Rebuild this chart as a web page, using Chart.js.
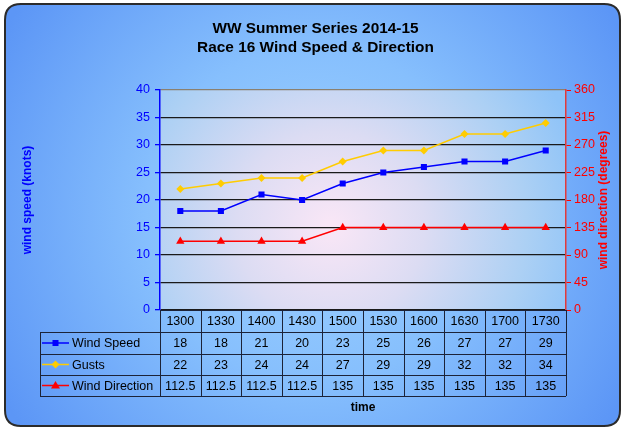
<!DOCTYPE html>
<html>
<head>
<meta charset="utf-8">
<script src="https://cdn.jsdelivr.net/npm/chart.js@4/dist/chart.umd.min.js"></script>
<style>
  html, body { margin: 0; padding: 0; background: #fff; }
  #wrap { width: 626px; height: 430px; }
</style>
</head>
<body>
<div id="wrap"><canvas id="chart" width="626" height="430"></canvas></div>
<script>
(function () {
  'use strict';

  // data
  var TIMES = ['1300', '1330', '1400', '1430', '1500', '1530', '1600', '1630', '1700', '1730'];
  var WIND_SPEED = [18, 18, 21, 20, 23, 25, 26, 27, 27, 29];
  var GUSTS = [22, 23, 24, 24, 27, 29, 29, 32, 32, 34];
  var WIND_DIR = [112.5, 112.5, 112.5, 112.5, 135, 135, 135, 135, 135, 135];
  var SERIES_NAMES = ['Wind Speed', 'Gusts', 'Wind Direction'];

  var C = {
    blue: '#0000ff',
    gold: '#ffcc00',
    red: '#ff0000',
    grid: '#1a1a1a',
    text: '#000000'
  };
  var FONT = "Arial, 'Liberation Sans', sans-serif";

  Chart.defaults.font.family = FONT;
  Chart.defaults.font.size = 12;

  // ── backgrounds: rounded outer panel + plot area gradient ──
  var backgroundPlugin = {
    id: 'panelBg',
    beforeDraw: function (chart) {
      var ctx = chart.ctx;
      var W = chart.width, H = chart.height;
      ctx.save();
      ctx.fillStyle = '#ffffff';
      ctx.fillRect(0, 0, W, H);

      var x0 = 5, y0 = 4, x1 = 620, y1 = 426, r = 16;
      ctx.beginPath();
      ctx.moveTo(x0 + r, y0);
      ctx.lineTo(x1 - r, y0);
      ctx.quadraticCurveTo(x1, y0, x1, y0 + r);
      ctx.lineTo(x1, y1 - r);
      ctx.quadraticCurveTo(x1, y1, x1 - r, y1);
      ctx.lineTo(x0 + r, y1);
      ctx.quadraticCurveTo(x0, y1, x0, y1 - r);
      ctx.lineTo(x0, y0 + r);
      ctx.quadraticCurveTo(x0, y0, x0 + r, y0);
      ctx.closePath();
      var g = ctx.createRadialGradient(313, 215, 10, 313, 215, 360);
      g.addColorStop(0, '#9dd0ff');
      g.addColorStop(0.45, '#86bffd');
      g.addColorStop(1, '#5c96f6');
      ctx.fillStyle = g;
      ctx.fill();
      ctx.lineWidth = 2;
      ctx.strokeStyle = '#2b2b2b';
      ctx.stroke();

      var a = chart.chartArea;
      var cx = a.left + (a.right - a.left) * 0.42, cy = a.top + (a.bottom - a.top) * 0.62;
      var pg = ctx.createRadialGradient(cx, cy, 5, cx, cy, 260);
      pg.addColorStop(0, '#f8e6f6');
      pg.addColorStop(0.35, '#dcdcf3');
      pg.addColorStop(0.75, '#acd0f4');
      pg.addColorStop(1, '#8ec3f8');
      ctx.fillStyle = pg;
      ctx.fillRect(a.left, a.top, a.right - a.left, a.bottom - a.top);
      ctx.restore();
    }
  };

  function drawMarker(ctx, style, x, y, color) {
    ctx.fillStyle = color;
    ctx.beginPath();
    if (style === 'rect') {
      ctx.rect(x - 3, y - 3, 6, 6);
    } else if (style === 'rectRot') {
      ctx.moveTo(x, y - 4); ctx.lineTo(x + 4, y); ctx.lineTo(x, y + 4); ctx.lineTo(x - 4, y);
      ctx.closePath();
    } else {
      ctx.moveTo(x, y - 4.5); ctx.lineTo(x + 4.5, y + 3); ctx.lineTo(x - 4.5, y + 3);
      ctx.closePath();
    }
    ctx.fill();
  }

  // ── data table under the plot, aligned to the category scale ──
  var tablePlugin = {
    id: 'dataTable',
    afterDraw: function (chart) {
      var ctx = chart.ctx;
      var xs = chart.scales.x;
      var a = chart.chartArea;
      var n = TIMES.length;
      var colW = (a.right - a.left) / n;
      var legendLeft = 40;
      var rowTops = [a.bottom, a.bottom + 22, a.bottom + 44, a.bottom + 65, a.bottom + 86];
      var rows = [WIND_SPEED, GUSTS, WIND_DIR];
      var colors = [C.blue, C.gold, C.red];
      var styles = ['rect', 'rectRot', 'triangle'];

      ctx.save();
      ctx.strokeStyle = '#1c2338';
      ctx.lineWidth = 1;

      // horizontal lines
      ctx.beginPath();
      ctx.moveTo(a.left, rowTops[0] + 0.5); ctx.lineTo(a.right, rowTops[0] + 0.5);
      for (var r = 1; r < rowTops.length; r++) {
        ctx.moveTo(legendLeft, rowTops[r] + 0.5); ctx.lineTo(a.right, rowTops[r] + 0.5);
      }
      // vertical lines
      for (var i = 0; i <= n; i++) {
        var vx = Math.round(a.left + i * colW) + 0.5;
        ctx.moveTo(vx, rowTops[0]); ctx.lineTo(vx, rowTops[4]);
      }
      ctx.moveTo(legendLeft + 0.5, rowTops[1]); ctx.lineTo(legendLeft + 0.5, rowTops[4]);
      ctx.stroke();

      ctx.font = '12.5px ' + FONT;
      ctx.fillStyle = C.text;
      ctx.textAlign = 'center';
      ctx.textBaseline = 'middle';
      for (var j = 0; j < n; j++) {
        var cx = xs.getPixelForValue(j);
        ctx.fillText(TIMES[j], cx, (rowTops[0] + rowTops[1]) / 2 + 1);
        for (var k = 0; k < rows.length; k++) {
          ctx.fillText(String(rows[k][j]), cx, (rowTops[k + 1] + rowTops[k + 2]) / 2 + 1);
        }
      }

      // legend keys
      for (var m = 0; m < rows.length; m++) {
        var ky = (rowTops[m + 1] + rowTops[m + 2]) / 2;
        ctx.strokeStyle = colors[m];
        ctx.lineWidth = 1.5;
        ctx.beginPath();
        ctx.moveTo(42, ky); ctx.lineTo(69, ky);
        ctx.stroke();
        drawMarker(ctx, styles[m], 55.5, ky, colors[m]);
        ctx.fillStyle = C.text;
        ctx.textAlign = 'left';
        ctx.fillText(SERIES_NAMES[m], 72, ky + 1);
      }

      // right axis title, reading bottom to top
      ctx.translate(604, (a.top + a.bottom) / 2);
      ctx.rotate(-Math.PI / 2);
      ctx.font = 'bold 12px ' + FONT;
      ctx.fillStyle = C.red;
      ctx.textAlign = 'center';
      ctx.fillText('wind direction (degrees)', 0, 0);
      ctx.restore();
    }
  };

  function series(label, data, color, style, radius, axis) {
    return {
      label: label,
      data: data,
      yAxisID: axis,
      borderColor: color,
      backgroundColor: color,
      borderWidth: 1.5,
      pointStyle: style,
      pointRadius: radius,
      pointHoverRadius: radius,
      pointBorderWidth: 0,
      tension: 0
    };
  }

  new Chart(document.getElementById('chart'), {
    type: 'line',
    data: {
      labels: TIMES,
      datasets: [
        series('Wind Speed', WIND_SPEED, C.blue, 'rect', 4.3, 'y'),
        series('Gusts', GUSTS, C.gold, 'rectRot', 4, 'y'),
        series('Wind Direction', WIND_DIR, C.red, 'triangle', 4.8, 'y1')
      ]
    },
    options: {
      responsive: false,
      animation: false,
      events: [],
      layout: { padding: { top: 0, left: 16, right: 11, bottom: 11 } },
      plugins: {
        legend: { display: false },
        tooltip: { enabled: false },
        title: {
          display: true,
          text: ['WW Summer Series 2014-15', 'Race 16 Wind Speed & Direction'],
          color: C.text,
          font: { size: 15.4, weight: 'bold', lineHeight: 1.234 },
          padding: { top: 19, bottom: 33 }
        }
      },
      scales: {
        x: {
          offset: true,
          grid: { display: false },
          border: { display: false },
          ticks: { display: false },
          title: { display: true, text: 'time', color: C.text, font: { size: 12, weight: 'bold' } },
          afterFit: function (s) { s.height = 109; }
        },
        y: {
          position: 'left',
          min: 0,
          max: 40,
          ticks: { stepSize: 5, color: C.blue, padding: 5, font: { size: 12.5 } },
          grid: {
            color: function (c) { return c.tick && c.tick.value === 40 ? '#8a8070' : C.grid; },
            tickColor: C.blue,
            tickLength: 5,
            lineWidth: 1.3
          },
          border: { color: C.blue, width: 1.5 },
          title: { display: true, text: 'wind speed (knots)', color: C.blue, font: { size: 12, weight: 'bold' } },
          afterFit: function (s) { s.width = 144; }
        },
        y1: {
          position: 'right',
          min: 0,
          max: 360,
          ticks: { stepSize: 45, color: C.red, padding: 3, font: { size: 12.5 } },
          grid: { drawOnChartArea: false, tickColor: C.red, tickLength: 5 },
          border: { color: '#e23a3a', width: 1.5 },
          afterFit: function (s) { s.width = 49; }
        }
      }
    },
    plugins: [backgroundPlugin, tablePlugin]
  });
})();
</script>
</body>
</html>
